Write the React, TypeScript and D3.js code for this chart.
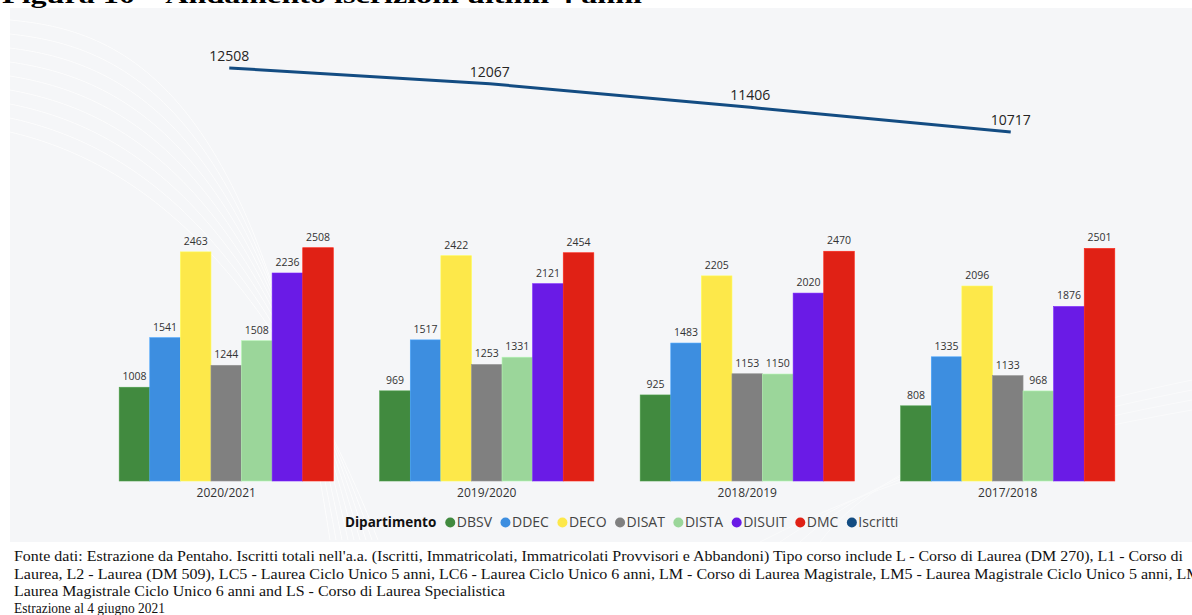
import React, { useEffect, useRef } from "react";
import * as d3 from "d3";

const years = ["2020/2021", "2019/2020", "2018/2019", "2017/2018"];
const departments = ["DBSV", "DDEC", "DECO", "DISAT", "DISTA", "DISUIT", "DMC"];
const deptColors = ["#418a3f", "#3d8ee0", "#fde84a", "#808080", "#9bd69a", "#6a1be6", "#e02115"];
const DBSV = [1008, 969, 925, 808];
const DDEC = [1541, 1517, 1483, 1335];
const DECO = [2463, 2422, 2205, 2096];
const DISAT = [1244, 1253, 1153, 1133];
const DISTA = [1508, 1331, 1150, 968];
const DISUIT = [2236, 2121, 2020, 1876];
const DMC = [2508, 2454, 2470, 2501];
const iscritti = [12508, 12067, 11406, 10717];
const lineColor = "#134c82";

const footerLines = [
  "Fonte dati: Estrazione da Pentaho. Iscritti totali nell'a.a. (Iscritti, Immatricolati, Immatricolati Provvisori e Abbandoni) Tipo corso include L - Corso di Laurea (DM 270), L1 - Corso di",
  "Laurea, L2 - Laurea (DM 509), LC5 - Laurea Ciclo Unico 5 anni, LC6 - Laurea Ciclo Unico 6 anni, LM - Corso di Laurea Magistrale, LM5 - Laurea Magistrale Ciclo Unico 5 anni, LM6 -",
  "Laurea Magistrale Ciclo Unico 6 anni and LS - Corso di Laurea Specialistica",
  "Estrazione al 4 giugno 2021",
];
const title = "Figura 10 – Andamento iscrizioni ultimi 4 anni";

export default function App() {
  const ref = useRef<SVGSVGElement | null>(null);

  useEffect(() => {
    const svg = d3.select(ref.current);
    svg.selectAll("*").remove();
    const W = 1192;
    const font = "'Open Sans', 'Noto Sans', sans-serif";

    // title (cut off at top, as in the source page)
    svg.append("text").attr("x", 2).attr("y", 3)
      .attr("font-family", "'Liberation Serif', 'Times New Roman', serif")
      .attr("font-weight", "bold").attr("font-size", 24)
      .attr("textLength", 640).attr("lengthAdjust", "spacingAndGlyphs")
      .text(title);

    // background panel
    svg.append("rect").attr("x", 10).attr("y", 8).attr("width", W - 10).attr("height", 534)
      .attr("fill", "#f5f6f8");
    // faint decorative waves
    const waves = svg.append("g").attr("fill", "none").attr("stroke", "#ffffff").attr("stroke-width", 1).attr("opacity", 0.8);
    for (let i = 0; i < 9; i++) {
      waves.append("path").attr("d", `M10,${20 + i * 14} C120,${30 + i * 16} 260,${80 + i * 20} ${330 + i * 6},${540}`);
    }
    const waves2 = svg.append("g").attr("fill", "none").attr("stroke", "#ffffff").attr("stroke-width", 1).attr("opacity", 0.5);
    for (let i = 0; i < 4; i++) {
      waves2.append("path").attr("d", `M${760 + i * 20},542 C880,${480 - i * 6} 1020,${440 - i * 8} ${W},${410 - i * 10}`);
    }

    const x = d3.scaleBand<string>().domain(years).range([96, 1138]).paddingInner(0.178).paddingOuter(0.089);
    const xi = d3.scaleBand<string>().domain(departments).range([0, x.bandwidth()]).padding(0);
    const yBar = d3.scaleLinear().domain([0, 2700]).range([481, 229.85]);
    const yLine = d3.scaleLinear().domain([10000, 13000]).range([157.6, 50.4]);

    const seriesVals = [DBSV, DDEC, DECO, DISAT, DISTA, DISUIT, DMC];

    const groups = svg.append("g").selectAll("g").data(years).join("g")
      .attr("transform", (d) => `translate(${x(d)},0)`);

    departments.forEach((dep, di) => {
      groups.append("rect")
        .attr("x", xi(dep)!)
        .attr("y", (_, i) => yBar(seriesVals[di][i]))
        .attr("width", xi.bandwidth())
        .attr("height", (_, i) => yBar(0) - yBar(seriesVals[di][i]))
        .attr("fill", deptColors[di])
        .attr("stroke", d3.color(deptColors[di])!.brighter(0.4).toString())
        .attr("stroke-width", 0.6);
      groups.append("text")
        .attr("x", xi(dep)! + xi.bandwidth() / 2)
        .attr("y", (_, i) => yBar(seriesVals[di][i]) - 7)
        .attr("text-anchor", "middle")
        .attr("font-family", font).attr("font-size", 10.5).attr("fill", "#333")
        .text((_, i) => String(seriesVals[di][i]));
    });

    // category labels
    svg.append("g").selectAll("text").data(years).join("text")
      .attr("x", (d) => x(d)! + x.bandwidth() / 2)
      .attr("y", 497)
      .attr("text-anchor", "middle")
      .attr("font-family", font).attr("font-size", 12).attr("fill", "#333")
      .text((d) => d);

    // line
    const cx = (i: number) => x(years[i])! + x.bandwidth() / 2 + 3;
    const line = d3.line<number>().x((_, i) => cx(i)).y((d) => yLine(d));
    svg.append("path").datum(iscritti).attr("d", line)
      .attr("fill", "none").attr("stroke", lineColor).attr("stroke-width", 3);
    svg.append("g").selectAll("text").data(iscritti).join("text")
      .attr("x", (_, i) => cx(i))
      .attr("y", (d) => yLine(d) - 7)
      .attr("text-anchor", "middle")
      .attr("font-family", font).attr("font-size", 14).attr("fill", "#252423")
      .text((d) => String(d));

    // legend
    const lg = svg.append("g");
    let lx = 345;
    const ly = 527;
    const head = lg.append("text").attr("x", lx).attr("y", ly)
      .attr("font-family", font).attr("font-size", 13.5).attr("font-weight", "bold").attr("fill", "#111")
      .text("Dipartimento");
    lx += (head.node() as SVGTextElement).getComputedTextLength() + 9;
    const items = [...departments, "Iscritti"];
    const itemColors = [...deptColors, lineColor];
    items.forEach((name, i) => {
      lg.append("circle").attr("cx", lx + 5).attr("cy", ly - 4.5).attr("r", 5).attr("fill", itemColors[i]);
      const t = lg.append("text").attr("x", lx + 11.5).attr("y", ly)
        .attr("font-family", font).attr("font-size", 14).attr("fill", "#444")
        .text(name);
      lx += 11.5 + (t.node() as SVGTextElement).getComputedTextLength() + 8.5;
    });

    // footer
    const fy = [561, 579, 596, 613];
    const fl = [1169, 1204, 491, 151];
    footerLines.forEach((s, i) => {
      svg.append("text").attr("x", 14).attr("y", fy[i])
        .attr("font-family", "'Liberation Serif', 'Times New Roman', serif")
        .attr("font-size", 14.5).attr("fill", "#111")
        .attr("textLength", fl[i]).attr("lengthAdjust", "spacingAndGlyphs")
        .text(s);
    });
  }, []);

  return (
    <svg ref={ref} width={1192} height={615}
      style={{ position: "absolute", left: 0, top: 0, background: "#fff" }} />
  );
}
